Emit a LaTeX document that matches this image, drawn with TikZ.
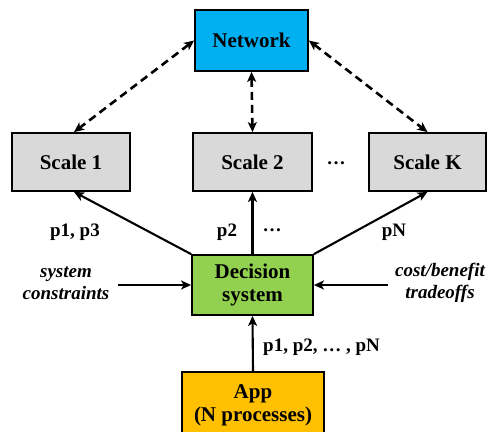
\documentclass[tikz,border=0pt]{standalone}
\usepackage{fontspec}
\setmainfont{Liberation Serif}
\usetikzlibrary{arrows.meta}
\definecolor{netblue}{HTML}{00B0F0}
\definecolor{scalegray}{HTML}{D9D9D9}
\definecolor{decgreen}{HTML}{92D050}
\definecolor{appgold}{HTML}{FFC000}
\tikzset{
  box/.style={draw=black, line width=1.8pt, inner sep=0pt, align=center,
    font=\fontsize{21}{24}\selectfont\bfseries},
  lbl/.style={font=\fontsize{19}{23}\selectfont\bfseries, inner sep=0pt, align=center},
  ilbl/.style={font=\fontsize{19}{23}\selectfont\bfseries\itshape, inner sep=0pt, align=center},
  tip/.tip={Stealth[length=10pt,width=9pt,inset=2.5pt]},
  arr/.style={line width=2.1pt, -tip},
  darr/.style={line width=2.6pt, tip-tip, dash pattern=on 8pt off 5pt}
}
\begin{document}
\begin{tikzpicture}[x=1pt,y=-1pt]
\clip (0,0) rectangle (487,431);
\fill[white] (0,0) rectangle (487,431);
\node[box, fill=netblue, minimum width=113pt, minimum height=61pt] (net) at (251.5,40.5) {Network};
\node[box, fill=scalegray, minimum width=118pt, minimum height=58pt] (s1) at (71,162) {Scale 1};
\node[box, fill=scalegray, minimum width=119pt, minimum height=58pt] (s2) at (252.5,162) {Scale 2};
\node[box, fill=scalegray, minimum width=117pt, minimum height=58pt] (sk) at (427.5,162) {Scale K};
\node[lbl] (dots1) at (336,163) {\ldots};
\node[box, fill=decgreen, minimum width=121pt, minimum height=60pt] (dec) at (252.5,285) {Decision\\[-1pt]system};
\node[box, fill=appgold, minimum width=142pt, minimum height=66pt] (app) at (253,405) {App\\[-1pt](N processes)};

\draw[darr] (net.west) -- ([xshift=3pt]s1.north);
\draw[darr] (net.south) -- (s2.north);
\draw[darr] (net.east) -- (sk.north);

\draw[arr] (dec.north west) -- ([xshift=3pt]s1.south);
\draw[arr] (dec.north) -- (s2.south);
\draw[arr] (dec.north east) -- (sk.south);
\draw[arr] (app.north) -- (dec.south);

\coordinate (sc) at (118,285);
\coordinate (cb) at (388,285);
\draw[arr] (sc) -- (dec.west);
\draw[arr] (cb) -- (dec.east);

\node[lbl] (l13) at (75,232) {p1, p3};
\node[lbl] (l2) at (227,232) {p2};
\node[lbl] (ld) at (272,230) {\ldots};
\node[lbl] (lN) at (394,232) {pN};
\node[ilbl] (scon) at (66,283) {system\\[-1pt]constraints};
\node[ilbl] (cost) at (440,283) {cost/benefit\\[-1pt]tradeoffs};
\node[lbl, anchor=west] (lall) at (263,347) {p1, p2, \ldots\ , pN};
\end{tikzpicture}
\end{document}
